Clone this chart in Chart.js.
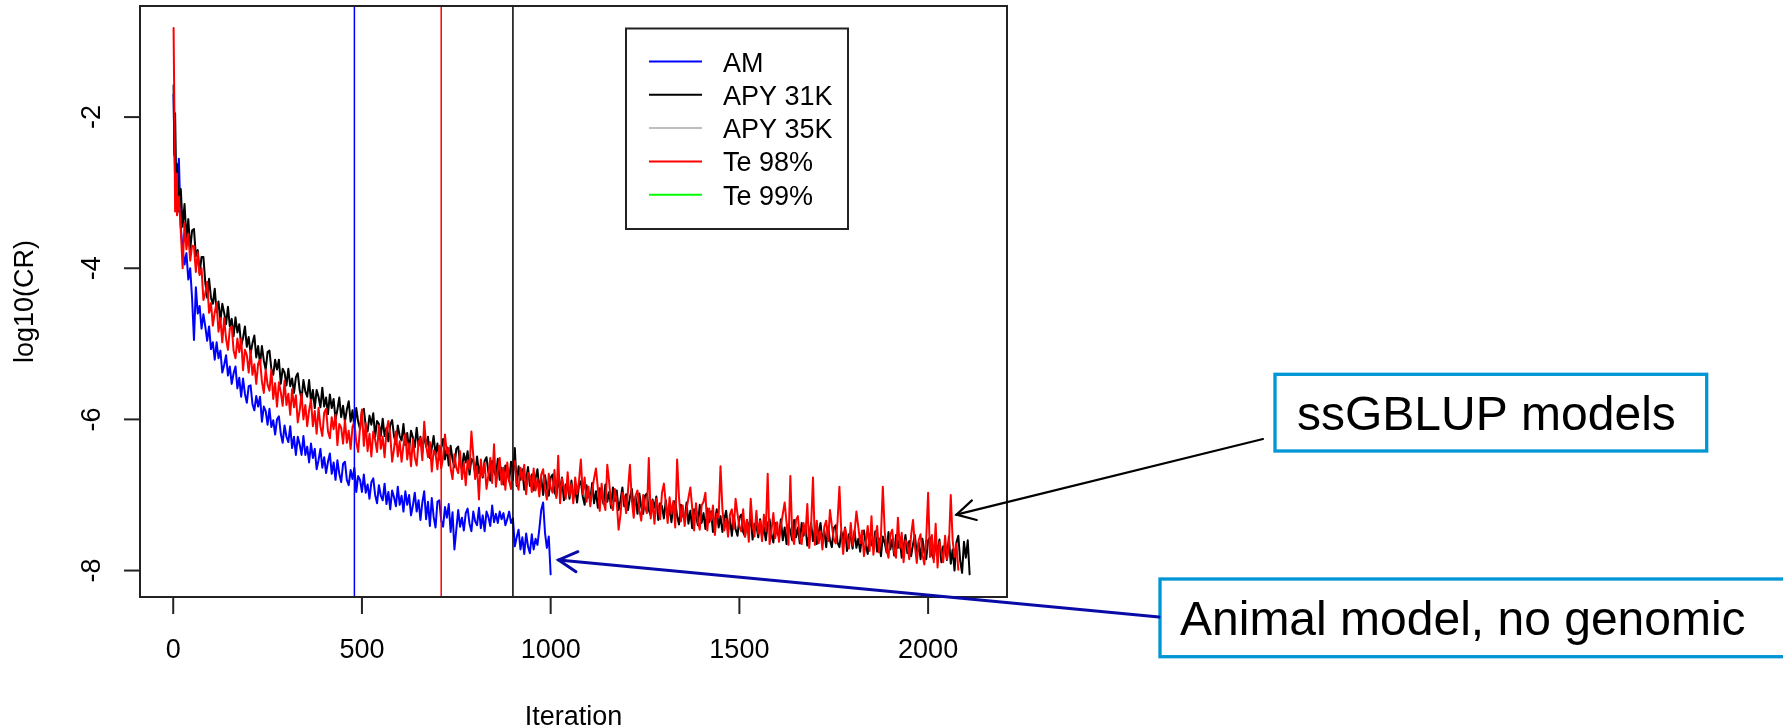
<!DOCTYPE html>
<html>
<head>
<meta charset="utf-8">
<title>log10(CR) by iteration</title>
<script src="https://cdn.jsdelivr.net/npm/chart.js@4.4.1/dist/chart.umd.min.js"></script>
<style>
body { margin: 0; background: #fff; overflow: hidden; }
</style>
</head>
<body>
<canvas id="crChart" width="1783" height="728"></canvas>

<script>
// iteration grid, a bit finer at the very start where every run drops fast
const iterations = [1, 3, 5, 8, 10, 15, 20, 25, 30, 35, 40, 45, 50,
  55, 60, 65, 70, 75, 80, 85, 90, 95, 100,
  105, 110, 115, 120, 125, 130, 135, 140, 145, 150,
  155, 160, 165, 170, 175, 180, 185, 190, 195, 200,
  205, 210, 215, 220, 225, 230, 235, 240, 245, 250,
  255, 260, 265, 270, 275, 280, 285, 290, 295, 300,
  305, 310, 315, 320, 325, 330, 335, 340, 345, 350,
  355, 360, 365, 370, 375, 380, 385, 390, 395, 400,
  405, 410, 415, 420, 425, 430, 435, 440, 445, 450,
  455, 460, 465, 470, 475, 480, 485, 490, 495, 500,
  505, 510, 515, 520, 525, 530, 535, 540, 545, 550,
  555, 560, 565, 570, 575, 580, 585, 590, 595, 600,
  605, 610, 615, 620, 625, 630, 635, 640, 645, 650,
  655, 660, 665, 670, 675, 680, 685, 690, 695, 700,
  705, 710, 715, 720, 725, 730, 735, 740, 745, 750,
  755, 760, 765, 770, 775, 780, 785, 790, 795, 800,
  805, 810, 815, 820, 825, 830, 835, 840, 845, 850,
  855, 860, 865, 870, 875, 880, 885, 890, 895, 900,
  905, 910, 915, 920, 925, 930, 935, 940, 945, 950,
  955, 960, 965, 970, 975, 980, 985, 990, 995, 1000,
  1005, 1010, 1015, 1020, 1025, 1030, 1035, 1040, 1045, 1050,
  1055, 1060, 1065, 1070, 1075, 1080, 1085, 1090, 1095, 1100,
  1105, 1110, 1115, 1120, 1125, 1130, 1135, 1140, 1145, 1150,
  1155, 1160, 1165, 1170, 1175, 1180, 1185, 1190, 1195, 1200,
  1205, 1210, 1215, 1220, 1225, 1230, 1235, 1240, 1245, 1250,
  1255, 1260, 1265, 1270, 1275, 1280, 1285, 1290, 1295, 1300,
  1305, 1310, 1315, 1320, 1325, 1330, 1335, 1340, 1345, 1350,
  1355, 1360, 1365, 1370, 1375, 1380, 1385, 1390, 1395, 1400,
  1405, 1410, 1415, 1420, 1425, 1430, 1435, 1440, 1445, 1450,
  1455, 1460, 1465, 1470, 1475, 1480, 1485, 1490, 1495, 1500,
  1505, 1510, 1515, 1520, 1525, 1530, 1535, 1540, 1545, 1550,
  1555, 1560, 1565, 1570, 1575, 1580, 1585, 1590, 1595, 1600,
  1605, 1610, 1615, 1620, 1625, 1630, 1635, 1640, 1645, 1650,
  1655, 1660, 1665, 1670, 1675, 1680, 1685, 1690, 1695, 1700,
  1705, 1710, 1715, 1720, 1725, 1730, 1735, 1740, 1745, 1750,
  1755, 1760, 1765, 1770, 1775, 1780, 1785, 1790, 1795, 1800,
  1805, 1810, 1815, 1820, 1825, 1830, 1835, 1840, 1845, 1850,
  1855, 1860, 1865, 1870, 1875, 1880, 1885, 1890, 1895, 1900,
  1905, 1910, 1915, 1920, 1925, 1930, 1935, 1940, 1945, 1950,
  1955, 1960, 1965, 1970, 1975, 1980, 1985, 1990, 1995, 2000,
  2005, 2010, 2015, 2020, 2025, 2030, 2035, 2040, 2045, 2050,
  2055, 2060, 2065, 2070, 2075, 2080, 2085, 2090, 2095, 2100,
  2105, 2110];

// log10(CR) (one value per grid step)
const amValues = [-1.7, -2.4, -2.8, -2.65, -3.05, -2.55, -3.45, -3.75, -3.95, -3.8, -4.15, -4.0, -4.4,
  -4.95, -4.25, -4.6, -4.5, -4.8, -4.61, -4.77, -4.96, -4.77, -5.07,
  -4.98, -5.21, -4.98, -5.19, -5.09, -5.38, -5.28, -5.15, -5.42, -5.3,
  -5.53, -5.39, -5.3, -5.59, -5.45, -5.7, -5.46, -5.66, -5.78, -5.56,
  -5.55, -5.8, -5.88, -5.69, -5.83, -5.7, -6.03, -5.83, -5.89, -6.07,
  -5.86, -6.1, -6.01, -6.2, -6.0, -5.96, -6.19, -6.31, -6.08, -6.23,
  -6.3, -6.09, -6.38, -6.23, -6.47, -6.23, -6.33, -6.47, -6.22, -6.47,
  -6.36, -6.57, -6.32, -6.51, -6.39, -6.66, -6.54, -6.39, -6.64, -6.5,
  -6.71, -6.56, -6.45, -6.72, -6.57, -6.8, -6.54, -6.72, -6.83, -6.59,
  -6.56, -6.8, -6.87, -6.67, -6.79, -6.64, -6.96, -6.75, -6.8, -6.96,
  -6.73, -6.97, -6.86, -7.05, -6.83, -6.78, -7.0, -7.11, -6.87, -7.01,
  -7.07, -6.85, -7.12, -6.96, -7.19, -6.94, -7.03, -7.15, -6.89, -7.13,
  -7.01, -7.22, -6.95, -7.13, -7.0, -7.27, -7.14, -6.97, -7.22, -7.07,
  -7.33, -7.1, -6.95, -7.32, -7.09, -7.41, -7.04, -7.29, -7.43, -7.09,
  -7.07, -7.34, -7.42, -7.16, -7.3, -7.12, -7.49, -7.23, -7.72, -7.46,
  -7.2, -7.42, -7.3, -7.47, -7.24, -7.18, -7.38, -7.48, -7.22, -7.35,
  -7.4, -7.17, -7.44, -7.27, -7.48, -7.22, -7.29, -7.41, -7.14, -7.36,
  -7.25, -7.37, -7.22, -7.32, -7.24, -7.4, -7.32, -7.22, -7.37, -7.31,
  -7.68, -7.56, -7.46, -7.72, -7.56, -7.78, -7.51, -7.68, -7.77, -7.52,
  -7.72, -7.58, -7.66, -7.45, -7.2, -7.1, -7.5, -7.7, -7.55, -8.05];

const apy31kValues = [-1.58, -2.5, -1.95, -2.9, -2.62, -3.25, -2.95, -3.45, -3.15, -3.6, -3.35, -3.75, -3.5,
  -3.48, -3.84, -3.76, -4.07, -3.85, -3.85, -4.19, -4.39, -4.14, -4.39,
  -4.47, -4.27, -4.58, -4.44, -4.7, -4.47, -4.59, -4.74, -4.51, -4.77,
  -4.67, -4.9, -4.65, -4.85, -4.74, -5.03, -4.92, -4.77, -5.04, -4.91,
  -5.13, -4.99, -4.89, -5.18, -5.03, -5.27, -5.03, -5.22, -5.34, -5.11,
  -5.09, -5.33, -5.41, -5.21, -5.34, -5.21, -5.53, -5.33, -5.38, -5.55,
  -5.33, -5.56, -5.46, -5.65, -5.44, -5.39, -5.61, -5.73, -5.48, -5.63,
  -5.7, -5.48, -5.77, -5.61, -5.85, -5.61, -5.7, -5.84, -5.58, -5.83,
  -5.71, -5.93, -5.67, -5.85, -5.73, -6.0, -5.87, -5.71, -5.97, -5.82,
  -6.03, -5.87, -5.76, -6.03, -5.88, -6.11, -5.85, -6.03, -6.13, -5.89,
  -5.86, -6.09, -6.16, -5.95, -6.07, -5.92, -6.23, -6.02, -6.06, -6.22,
  -5.99, -6.22, -6.11, -6.29, -6.07, -6.01, -6.22, -6.33, -6.08, -6.22,
  -6.28, -6.06, -6.34, -6.18, -6.41, -6.15, -6.24, -6.37, -6.11, -6.35,
  -6.23, -6.44, -6.18, -6.36, -6.23, -6.51, -6.38, -6.22, -6.47, -6.32,
  -6.53, -6.37, -6.26, -6.53, -6.37, -6.61, -6.35, -6.53, -6.63, -6.39,
  -6.36, -6.59, -6.66, -6.45, -6.57, -6.42, -6.73, -6.52, -6.56, -6.72,
  -6.49, -6.71, -6.6, -6.77, -6.55, -6.5, -6.7, -6.81, -6.55, -6.69,
  -6.75, -6.52, -6.8, -6.64, -6.86, -6.61, -6.7, -6.82, -6.56, -6.8,
  -6.38, -6.88, -6.62, -6.8, -6.66, -6.93, -6.8, -6.63, -6.88, -6.73,
  -6.94, -6.78, -6.66, -6.93, -6.77, -7.0, -6.74, -6.91, -7.01, -6.77,
  -6.73, -6.96, -7.02, -6.81, -6.92, -6.77, -7.07, -6.86, -6.89, -7.05,
  -6.81, -7.04, -6.92, -7.1, -6.87, -6.82, -7.02, -7.13, -6.87, -7.01,
  -7.06, -6.84, -7.11, -6.95, -7.17, -6.91, -7.0, -7.12, -6.86, -7.09,
  -6.96, -7.17, -6.9, -7.08, -6.94, -7.2, -7.07, -6.9, -7.15, -6.99,
  -7.2, -7.03, -6.92, -7.18, -7.02, -7.25, -6.98, -7.16, -7.25, -7.01,
  -6.98, -7.2, -7.27, -7.06, -7.17, -7.02, -7.33, -7.11, -7.15, -7.31,
  -7.07, -7.3, -7.18, -7.36, -7.13, -7.08, -7.28, -7.39, -7.13, -7.27,
  -7.33, -7.1, -7.38, -7.21, -7.44, -7.19, -7.27, -7.4, -7.13, -7.37,
  -7.24, -7.45, -7.18, -7.36, -7.22, -7.49, -7.35, -7.19, -7.43, -7.28,
  -7.49, -7.32, -7.21, -7.47, -7.31, -7.54, -7.27, -7.45, -7.54, -7.3,
  -7.26, -7.49, -7.55, -7.33, -7.45, -7.29, -7.59, -7.38, -7.41, -7.56,
  -7.32, -7.55, -7.43, -7.6, -7.38, -7.32, -7.52, -7.63, -7.37, -7.5,
  -7.55, -7.32, -7.6, -7.43, -7.65, -7.39, -7.48, -7.6, -7.33, -7.56,
  -7.43, -7.64, -7.37, -7.54, -7.41, -7.67, -7.53, -7.37, -7.61, -7.45,
  -7.65, -7.49, -7.37, -7.63, -7.47, -7.69, -7.42, -7.6, -7.69, -7.44,
  -7.4, -7.63, -7.69, -7.48, -7.59, -7.43, -7.74, -7.52, -7.56, -7.71,
  -7.47, -7.7, -7.58, -7.75, -7.53, -7.47, -7.67, -7.78, -7.52, -7.65,
  -7.7, -7.48, -7.75, -7.58, -7.81, -7.55, -7.63, -7.76, -7.49, -7.72,
  -7.59, -7.8, -7.53, -7.7, -7.57, -7.83, -7.69, -7.53, -7.77, -7.61,
  -7.81, -7.65, -7.53, -7.79, -7.63, -7.85, -7.58, -7.76, -7.85, -7.6,
  -7.56, -7.79, -7.85, -7.63, -7.75, -7.59, -7.89, -7.68, -7.71, -7.86,
  -7.55, -7.91, -7.72, -8.0, -7.63, -7.54, -7.87, -8.03, -7.62, -7.83,
  -7.6, -8.05];

const te98Values = [-0.82, -1.9, -3.25, -2.75, -3.3, -3.05, -3.5, -4.0, -3.4, -3.75, -3.55, -3.9, -3.7,
  -3.71, -4.05, -3.79, -4.09, -4.0, -4.42, -4.33, -4.18, -4.59, -4.46,
  -4.76, -4.58, -4.46, -4.84, -4.66, -4.98, -4.66, -4.93, -5.08, -4.8,
  -4.77, -5.09, -5.19, -4.93, -5.11, -4.93, -5.35, -5.08, -5.15, -5.38,
  -5.09, -5.41, -5.27, -5.53, -5.26, -5.21, -5.5, -5.65, -5.34, -5.54,
  -5.62, -5.34, -5.73, -5.52, -5.83, -5.51, -5.64, -5.82, -5.49, -5.81,
  -5.66, -5.94, -5.6, -5.84, -5.68, -6.04, -5.88, -5.66, -6.0, -5.81,
  -6.09, -5.88, -5.74, -6.09, -5.89, -6.19, -5.85, -6.09, -6.22, -5.91,
  -5.86, -6.16, -6.25, -5.97, -6.13, -5.94, -6.34, -6.06, -6.11, -6.32,
  -6.01, -6.31, -6.15, -6.39, -6.1, -6.03, -6.3, -6.43, -6.1, -5.87,
  -6.35, -6.05, -6.42, -6.19, -6.49, -6.16, -6.27, -6.43, -6.08, -6.39,
  -6.23, -6.5, -6.15, -6.02, -6.21, -6.56, -6.39, -6.16, -6.49, -6.29,
  -6.56, -6.34, -6.19, -6.53, -6.32, -6.62, -6.26, -6.5, -6.61, -6.3,
  -6.25, -6.54, -6.03, -6.34, -6.5, -6.3, -6.69, -6.41, -6.45, -6.66,
  -6.35, -6.65, -6.5, -6.2, -6.45, -6.38, -6.65, -6.79, -6.46, -6.64,
  -6.71, -6.42, -6.79, -6.57, -6.87, -6.54, -6.66, -6.16, -6.48, -6.79,
  -6.62, -7.06, -6.53, -6.75, -6.58, -6.92, -6.74, -6.51, -6.84, -6.33,
  -6.89, -6.67, -6.51, -6.86, -6.64, -6.93, -6.57, -6.81, -6.92, -6.6,
  -6.55, -6.84, -6.93, -6.64, -6.8, -6.6, -6.99, -6.71, -6.75, -6.96,
  -6.65, -6.94, -6.79, -7.02, -6.73, -6.66, -6.92, -7.06, -6.72, -6.9,
  -6.97, -6.67, -7.04, -6.48, -7.11, -6.78, -6.89, -7.05, -6.7, -7.01,
  -6.85, -7.11, -6.77, -6.99, -6.82, -6.53, -6.99, -6.77, -7.09, -6.89,
  -7.15, -6.94, -6.78, -6.65, -6.91, -7.21, -6.85, -7.09, -7.2, -6.6,
  -6.83, -7.12, -7.2, -6.92, -7.09, -7.46, -7.26, -6.97, -7.03, -7.24,
  -6.93, -6.6, -7.07, -7.3, -7.01, -6.94, -7.2, -7.34, -7.0, -7.17,
  -7.24, -6.51, -7.31, -7.08, -7.38, -7.05, -7.16, -7.32, -6.97, -6.85,
  -7.11, -7.37, -7.03, -7.25, -7.08, -7.43, -6.53, -7.03, -7.35, -7.14,
  -7.41, -7.19, -7.04, -6.9, -7.17, -7.47, -7.11, -7.35, -7.46, -7.14,
  -7.09, -6.97, -7.47, -7.18, -7.34, -7.14, -7.53, -7.25, -7.29, -6.62,
  -7.18, -7.47, -7.32, -7.55, -7.26, -7.19, -7.45, -7.05, -7.25, -7.42,
  -7.48, -7.19, -7.55, -7.33, -7.62, -7.05, -7.4, -7.55, -7.21, -7.51,
  -7.34, -7.61, -7.26, -7.48, -6.72, -7.65, -7.47, -7.24, -7.57, -7.36,
  -7.62, -7.41, -7.25, -7.1, -7.37, -7.66, -6.75, -7.54, -7.65, -7.33,
  -7.28, -7.57, -7.65, -7.37, -7.52, -7.12, -7.7, -7.41, -6.77, -7.66,
  -7.34, -7.64, -7.48, -7.72, -7.42, -7.34, -7.61, -7.2, -7.41, -7.58,
  -7.64, -7.35, -6.89, -7.49, -7.78, -7.44, -7.56, -7.71, -7.37, -7.67,
  -7.5, -7.22, -7.42, -7.64, -7.47, -7.81, -7.63, -7.41, -7.74, -7.28,
  -7.79, -7.57, -7.41, -7.76, -7.54, -6.89, -7.48, -7.72, -7.83, -7.52,
  -7.46, -7.75, -7.83, -7.3, -7.7, -7.5, -7.89, -7.6, -7.64, -7.85,
  -7.53, -7.33, -7.67, -7.9, -7.6, -7.52, -7.79, -7.92, -7.58, -6.97,
  -7.82, -7.53, -7.89, -7.38, -7.96, -7.62, -7.74, -7.89, -7.54, -7.85,
  -7.68, -7.0, -7.6, -7.82, -7.65, -7.99];

// in the legend, but their lines do not show on the plot
const apy35kValues = [];
const te99Values = [];

const seriesNames = ['AM', 'APY 31K', 'APY 35K', 'Te 98%', 'Te 99%'];
const xTicks = [0, 500, 1000, 1500, 2000];
const yTicks = [-8, -6, -4, -2];

// iteration at which each run stopped (vertical lines)
const stopIters = [480, 710, 900];
const stopColors = ['#0000ff', '#ff0000', '#000000'];

const FONT = '"Liberation Sans", Arial, sans-serif';

function drawArrow(c, x0, y0, x1, y1, color, width) {
    const head = 21, spread = 0.5;
    const a = Math.atan2(y1 - y0, x1 - x0);
    c.strokeStyle = color;
    c.lineWidth = width;
    c.lineCap = 'round';
    c.beginPath();
    c.moveTo(x0, y0);
    c.lineTo(x1, y1);
    c.stroke();
    c.beginPath();
    c.moveTo(x1 - head * Math.cos(a - spread), y1 - head * Math.sin(a - spread));
    c.lineTo(x1, y1);
    c.lineTo(x1 - head * Math.cos(a + spread), y1 - head * Math.sin(a + spread));
    c.stroke();
}

// R style frame, axes, legend and the slide callouts
const rDecor = {
    id: 'rDecor',
    afterDatasetsDraw(chart) {
        const c = chart.ctx, a = chart.chartArea, x = chart.scales.x;
        c.save();
        c.beginPath();
        c.rect(a.left, a.top, a.right - a.left, a.bottom - a.top);
        c.clip();
        c.lineWidth = 1.5;
        stopIters.forEach((it, i) => {
            const px = x.getPixelForValue(it);
            c.strokeStyle = stopColors[i];
            c.beginPath();
            c.moveTo(px, a.top);
            c.lineTo(px, a.bottom);
            c.stroke();
        });
        c.restore();
    },
    afterDraw(chart) {
        const c = chart.ctx, a = chart.chartArea;
        const x = chart.scales.x, y = chart.scales.y;
        c.save();

        // frame
        c.strokeStyle = '#222';
        c.lineWidth = 2;
        c.strokeRect(a.left, a.top, a.right - a.left, a.bottom - a.top);

        c.fillStyle = '#000';
        c.font = '27px ' + FONT;

        // x axis
        c.textAlign = 'center';
        c.textBaseline = 'alphabetic';
        xTicks.forEach(v => {
            const px = x.getPixelForValue(v);
            c.beginPath();
            c.moveTo(px, a.bottom);
            c.lineTo(px, a.bottom + 17);
            c.stroke();
            c.fillText(String(v), px, 658);
        });
        c.fillText('Iteration', (a.left + a.right) / 2, 725);

        // y axis, labels parallel to the axis
        yTicks.forEach(v => {
            const py = y.getPixelForValue(v);
            c.beginPath();
            c.moveTo(a.left, py);
            c.lineTo(a.left - 16, py);
            c.stroke();
            c.save();
            c.translate(100, py);
            c.rotate(-Math.PI / 2);
            c.fillText(String(v), 0, 0);
            c.restore();
        });
        c.save();
        c.translate(33, (a.top + a.bottom) / 2);
        c.rotate(-Math.PI / 2);
        c.fillText('log10(CR)', 0, 0);
        c.restore();

        // legend
        c.strokeStyle = '#222';
        c.lineWidth = 2;
        c.strokeRect(626, 28.5, 222, 200.5);
        c.textAlign = 'left';
        chart.data.datasets.forEach((ds, i) => {
            const ry = 61.5 + i * 33.3;
            c.strokeStyle = ds.borderColor;
            c.lineWidth = 2;
            c.beginPath();
            c.moveTo(649, ry);
            c.lineTo(702, ry);
            c.stroke();
            c.fillStyle = '#000';
            c.fillText(ds.label, 723, ry + 10);
        });

        // callout boxes
        c.strokeStyle = '#0096d6';
        c.lineWidth = 3.3;
        c.strokeRect(1275, 374.3, 431.7, 76.7);
        c.strokeRect(1160, 579, 700, 77.7);
        c.font = '48px ' + FONT;
        c.fillStyle = '#000';
        c.fillText('ssGBLUP models', 1297, 430);
        c.fillText('Animal model, no genomic', 1180, 635);

        // arrows pointing at the end of the traces
        drawArrow(c, 1263, 439, x.getPixelForValue(2075), y.getPixelForValue(-7.26), '#000', 2.2);
        drawArrow(c, 1159, 617, x.getPixelForValue(1021), y.getPixelForValue(-7.86), '#0a0aa8', 3);

        c.restore();
    }
};

const ctx = document.getElementById('crChart').getContext('2d');
const crChart = new Chart(ctx, {
    type: 'line',
    data: {
        labels: iterations,
        datasets: [
            { label: seriesNames[0], data: amValues, borderColor: '#0000ff', order: 3 },
            { label: seriesNames[1], data: apy31kValues, borderColor: '#000000', order: 2 },
            { label: seriesNames[2], data: apy35kValues, borderColor: '#bebebe', order: 4 },
            { label: seriesNames[3], data: te98Values, borderColor: '#ff0000', order: 1 },
            { label: seriesNames[4], data: te99Values, borderColor: '#00ff00', order: 5 }
        ]
    },
    options: {
        responsive: false,
        animation: false,
        layout: { padding: { left: 140, top: 6, right: 776, bottom: 131 } },
        elements: {
            point: { radius: 0 },
            line: { borderWidth: 2, tension: 0, fill: false, borderJoinStyle: 'round', borderCapStyle: 'round' }
        },
        plugins: {
            legend: { display: false },
            tooltip: { enabled: false }
        },
        scales: {
            x: { type: 'linear', display: false, min: -88, max: 2209 },
            y: { type: 'linear', display: false, min: -8.35, max: -0.53 }
        }
    },
    plugins: [rDecor]
});
</script>
</body>
</html>
